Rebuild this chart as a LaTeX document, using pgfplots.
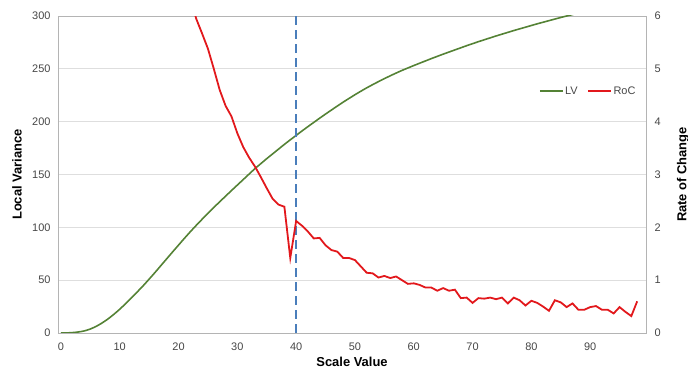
\documentclass[border=0pt]{standalone}
\usepackage{pgfplots}
\pgfplotsset{compat=1.18}
\usepackage{fontspec}
\setmainfont{Liberation Sans}
\definecolor{lvgreen}{RGB}{84,130,53}
\definecolor{rocred}{RGB}{226,24,28}
\definecolor{dashblue}{RGB}{74,126,187}
\definecolor{ticktxt}{RGB}{70,70,70}
\definecolor{framegray}{RGB}{180,180,180}
\definecolor{gridgray}{RGB}{222,222,222}
\begin{document}
\begin{tikzpicture}
\pgfplotsset{
  every axis/.append style={
    scale only axis, width=588bp, height=317bp,
    xmin=-0.5, xmax=99.5,
    /pgf/number format/assume math mode=true,
    tick label style={font=\fontsize{11}{13}\selectfont, text=ticktxt},
    label style={font=\bfseries\fontsize{13}{15}\selectfont},
    major tick length=0pt,
  }
}
\begin{axis}[
  name=main,
  ymin=0, ymax=300,
  xtick={0,10,...,90},
  ytick={0,50,...,300},
  ymajorgrids, grid style={gridgray, line width=0.8pt},
  axis line style={framegray, line width=0.9pt},
  xlabel={Scale Value},
  ylabel={Local Variance},
  xlabel style={at={(axis description cs:0.5,-0.091)}, anchor=center},
  ylabel style={at={(axis description cs:-0.0697,0.5)}, anchor=center},
  xticklabel style={yshift=-6bp},
  yticklabel style={xshift=-4bp},
]
\addplot[lvgreen, line width=1.6pt, smooth] coordinates {
(0,0) (1,0.1) (2,0.4) (3,1) (4,2) (5,3.8) (6,6.3) (7,9.5) (8,13.3) (9,17.7)
(10,22.5) (11,27.8) (12,33.3) (13,39) (14,44.8) (15,51) (16,57.3) (17,63.8) (18,70.3) (19,76.8)
(20,83.2) (21,89.6) (22,95.8) (23,101.8) (24,107.6) (25,113.3) (26,118.8) (27,124.2) (28,129.5) (29,134.8)
(30,140) (31,145.2) (32,150.4) (33,155.6) (34,160.3) (35,165) (36,169.5) (37,174) (38,178.5) (39,182.8)
(40,187) (41,191.2) (42,195.3) (43,199.3) (44,203.3) (45,207.2) (46,211) (47,214.8) (48,218.5) (49,222)
(50,225.5) (51,228.8) (52,232) (53,235) (54,237.9) (55,240.7) (56,243.4) (57,246) (58,248.5) (59,250.8)
(60,253.1) (61,255.3) (62,257.5) (63,259.7) (64,261.8) (65,263.9) (66,265.9) (67,267.9) (68,269.9) (69,271.9)
(70,273.8) (71,275.7) (72,277.5) (73,279.3) (74,281.1) (75,282.8) (76,284.5) (77,286.2) (78,287.8) (79,289.4)
(80,291) (81,292.6) (82,294.1) (83,295.6) (84,297.1) (85,298.6) (86,300) (87,301.4) (88,302.8) (89,304.1)
(90,305.4) (91,306.7) (92,308) (93,309.2) (94,310.4) (95,311.6) (96,312.8) (97,314) (98,315.1)
};
\addplot[dashblue, line width=1.8pt, dash pattern=on 9bp off 5bp] coordinates {(40,0) (40,300)};
\end{axis}
\begin{axis}[
  ymin=0, ymax=6,
  axis x line=none,
  axis y line*=right,
  y axis line style={draw=none},
  ytick={0,1,...,6},
  ylabel={Rate of Change},
  ylabel style={at={(axis description cs:1.063,0.5)}, anchor=center, rotate=0},
  yticklabel style={xshift=5bp},
  legend style={at={(rel axis cs:0.99,0.763)}, anchor=east, draw=none, fill=none,
    font=\fontsize{11}{13}\selectfont, text=ticktxt, legend columns=2,
    /tikz/every even column/.append style={column sep=8bp},
    nodes={inner xsep=1.5bp}},
  legend cell align=left,
  legend image code/.code={\draw[#1] (0bp,0bp) -- (23bp,0bp);},
]
\addlegendimage{lvgreen, line width=1.6pt}
\addlegendentry{LV}
\addplot[rocred, line width=1.8pt] coordinates {
(20,7.2) (21,6.8) (22,6.35) (23,5.95) (24,5.67) (25,5.38) (26,5.0) (27,4.6) (28,4.3) (29,4.1)
(30,3.78) (31,3.52) (32,3.32) (33,3.15) (34,2.95) (35,2.74) (36,2.54) (37,2.43) (38,2.39) (39,1.42)
(40,2.12) (41,2.03) (42,1.92) (43,1.79) (44,1.8) (45,1.66) (46,1.57) (47,1.54) (48,1.42) (49,1.42)
(50,1.38) (51,1.26) (52,1.14) (53,1.13) (54,1.05) (55,1.08) (56,1.04) (57,1.07) (58,1.0) (59,0.93)
(60,0.94) (61,0.91) (62,0.86) (63,0.86) (64,0.8) (65,0.85) (66,0.8) (67,0.82) (68,0.66) (69,0.67)
(70,0.57) (71,0.66) (72,0.65) (73,0.67) (74,0.64) (75,0.67) (76,0.56) (77,0.67) (78,0.62) (79,0.52)
(80,0.61) (81,0.57) (82,0.5) (83,0.42) (84,0.62) (85,0.58) (86,0.49) (87,0.56) (88,0.44) (89,0.44)
(90,0.49) (91,0.51) (92,0.44) (93,0.44) (94,0.37) (95,0.49) (96,0.4) (97,0.32) (98,0.6)
};
\addlegendentry{RoC}
\end{axis}
\pgfresetboundingbox
\path (main.south west) ++(-58bp,-38bp) rectangle ++(688bp,371bp);
\end{tikzpicture}
\end{document}
